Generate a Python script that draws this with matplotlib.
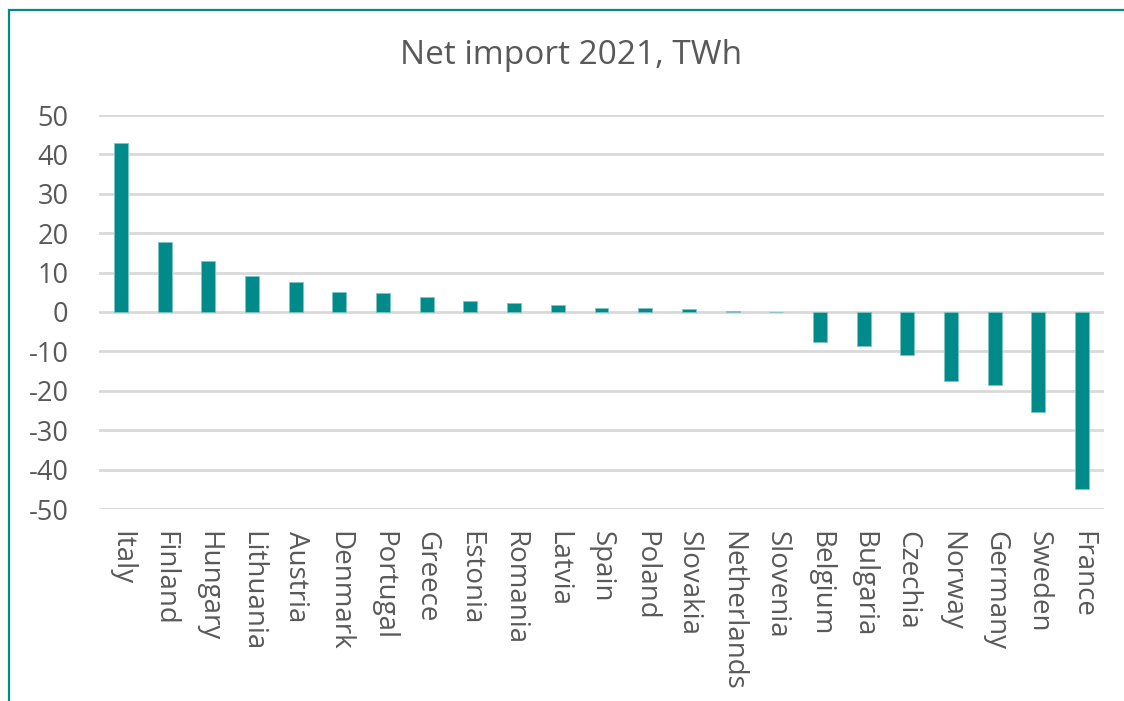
import matplotlib
matplotlib.use("Agg")
import matplotlib.pyplot as plt
from matplotlib.patches import Rectangle

countries = ["Italy", "Finland", "Hungary", "Lithuania", "Austria", "Denmark",
             "Portugal", "Greece", "Estonia", "Romania", "Latvia", "Spain",
             "Poland", "Slovakia", "Netherlands", "Slovenia", "Belgium",
             "Bulgaria", "Czechia", "Norway", "Germany", "Sweden", "France"]
net_import = [42.8, 17.8, 12.9, 9.1, 7.6, 5.0, 4.8, 3.7, 2.7, 2.2, 1.8, 0.95,
              0.9, 0.8, 0.2, -0.1, -7.7, -8.6, -10.9, -17.4, -18.5, -25.4, -44.9]
y_ticks = [50, 40, 30, 20, 10, 0, -10, -20, -30, -40, -50]

teal = "#008B8A"
grid_c = "#D9D9D9"
text_c = "#595959"

plt.rcParams['font.family'] = ['Open Sans', 'DejaVu Sans']

fig = plt.figure(figsize=(11.24, 7.01), dpi=100)
ax = fig.add_axes([99 / 1124, 1 - 509 / 701, (1104 - 99) / 1124, (509 - 115) / 701])

x = range(len(countries))
ax.bar(x, net_import, width=0.32, color=teal, edgecolor="#7FC5C4", linewidth=0.6, zorder=3)

ax.set_ylim(-50, 50)
ax.set_xlim(-0.5, len(countries) - 0.5)
ax.set_yticks(y_ticks)
ax.set_yticklabels([str(v) for v in y_ticks])
ax.yaxis.grid(True, color=grid_c, linewidth=2, zorder=0)
ax.set_axisbelow(True)
for s in ax.spines.values():
    s.set_visible(False)
ax.tick_params(axis="y", length=0, pad=22, labelsize=19.5, labelcolor=text_c)
ax.set_xticks(list(x))
ax.set_xticklabels(countries, rotation=270, ha="center", va="top")
ax.tick_params(axis="x", length=0, pad=16, labelsize=20, labelcolor=text_c)

fig.text(571 / 1124, 1 - 55 / 701, "Net import 2021, TWh", ha="center", va="center",
         fontsize=24, color=text_c)

# outer frame
fig.patches.append(Rectangle((9 / 1124, -0.05), 1.2, 1 - 10 / 701 + 0.05,
                             transform=fig.transFigure, fill=False,
                             edgecolor=teal, linewidth=1.6, zorder=10))

fig.savefig("out.png", dpi=100)
